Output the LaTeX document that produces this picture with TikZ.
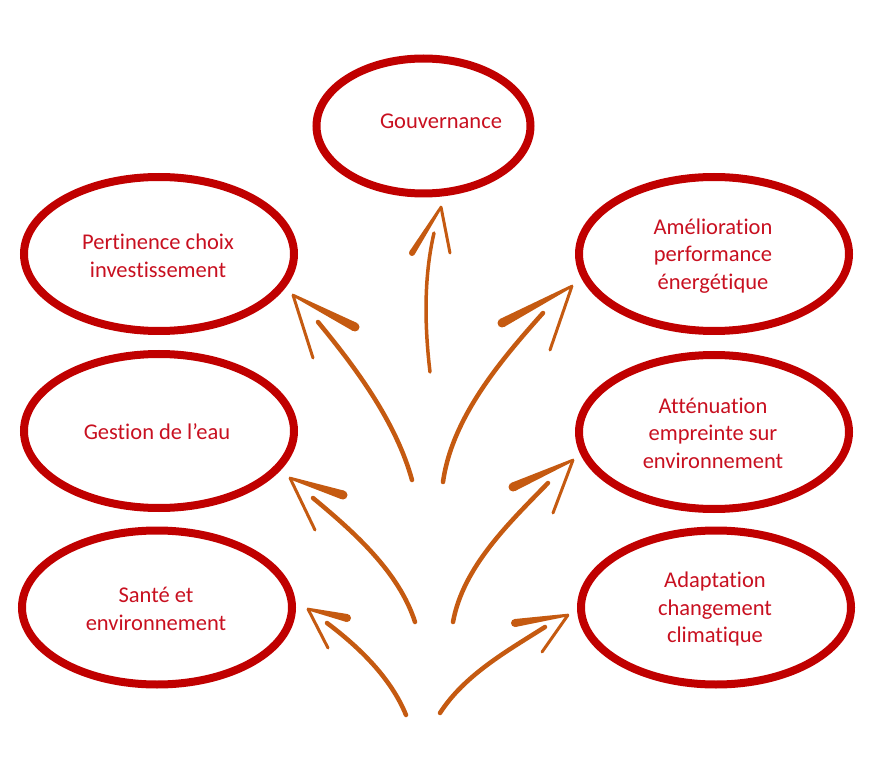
\documentclass[tikz,border=0pt]{standalone}
\usepackage{fontspec}
\setmainfont{Carlito}[Ligatures={NoCommon}]
\usetikzlibrary{calc,shapes.geometric}
\definecolor{bubblered}{RGB}{192,0,0}
\definecolor{textred}{RGB}{200,16,32}
\definecolor{arrowc}{RGB}{197,90,17}
\tikzset{
  bubble/.style={draw=bubblered, line width=8pt, ellipse, inner sep=0pt,
    minimum width=270pt, minimum height=154pt},
  lbl/.style={text=textred, align=center, font=\fontsize{22.5pt}{27.5pt}\selectfont, inner sep=0pt},
  shaft/.style={draw=arrowc, line width=4.5pt, line cap=round},
  thinbarb/.style={draw=arrowc, line width=3pt, line cap=round},
}
% tapered barb: #1 tip, #2 end, #3 half-width at end
\newcommand{\barbfill}[3]{%
  \fill[arrowc] ($(#1)!1.3pt!90:(#2)$) -- ($(#2)!#3!-90:(#1)$) -- ($(#2)!#3!90:(#1)$) -- ($(#1)!1.3pt!-90:(#2)$) -- cycle;
  \fill[arrowc] (#2) circle (#3);}
\begin{document}
\begin{tikzpicture}[x=1pt,y=-1pt]
\useasboundingbox (0,0) rectangle (887,770);
% ellipses
\node[bubble, minimum width=214pt, minimum height=135pt] (gouv) at (423.5,126) {};
\node[bubble] (pert) at (159,254) {};
\node[bubble] (eau) at (159,431) {};
\node[bubble] (sante) at (157,607.5) {};
\node[bubble] (ener) at (714,254) {};
\node[bubble] (envi) at (714,432) {};
\node[bubble] (clim) at (716,607.5) {};
% labels
\node[lbl] (gouvt) at (441,121) {Gouvernance};
\node[lbl] (pertt) at (158,256) {Pertinence choix\\investissement};
\node[lbl] (eaut) at (157,432) {Gestion de l’eau};
\node[lbl] (santet) at (156,609) {Santé et\\environnement};
\node[lbl] (enert) at (713,256) {Amélioration\\performance\\énergétique};
\node[lbl] (envit) at (713,433) {Atténuation\\empreinte sur\\environnement};
\node[lbl] (climt) at (715,609) {Adaptation\\changement\\climatique};
% arrow coordinates
\coordinate (s1) at (430,372); \coordinate (e1) at (434,233);
\coordinate (h1) at (441,207); \coordinate (k1) at (412,253); \coordinate (n1) at (450,253);
\coordinate (s2) at (412,480); \coordinate (e2) at (318,322);
\coordinate (h2) at (293,295); \coordinate (k2) at (355,327); \coordinate (n2) at (313,358);
\coordinate (s3) at (443,482); \coordinate (e3) at (543,313);
\coordinate (h3) at (572,286); \coordinate (k3) at (502,323); \coordinate (n3) at (550,350);
\coordinate (s4) at (415,622); \coordinate (e4) at (313,498);
\coordinate (h4) at (290,478); \coordinate (k4) at (343,495); \coordinate (n4) at (315,530);
\coordinate (s5) at (453,622); \coordinate (e5) at (548,483);
\coordinate (h5) at (573,460); \coordinate (k5) at (513,487); \coordinate (n5) at (553,513);
\coordinate (s6) at (406,715); \coordinate (e6) at (327,623);
\coordinate (h6) at (308,609); \coordinate (k6) at (347,618); \coordinate (n6) at (328,648);
\coordinate (s7) at (440,713); \coordinate (e7) at (545,627);
\coordinate (h7) at (568,615); \coordinate (k7) at (515,623); \coordinate (n7) at (542,652);
% shafts
\draw[shaft, line width=3.5pt] (s1) .. controls (424.6,326) and (423.6,278) .. (e1);
\draw[shaft] (s2) .. controls (396,422) and (356,368) .. (e2);
\draw[shaft] (s3) .. controls (452,418) and (500,361) .. (e3);
\draw[shaft] (s4) .. controls (399,572) and (354,532) .. (e4);
\draw[shaft] (s5) .. controls (463,567) and (509,523) .. (e5);
\draw[shaft] (s6) .. controls (391,678) and (359,647) .. (e6);
\draw[shaft] (s7) .. controls (464.5,675) and (507,651) .. (e7);
% heads
\barbfill{h1}{k1}{3pt}  \draw[thinbarb] (h1) -- (n1);
\barbfill{h2}{k2}{4.5pt} \draw[thinbarb] (h2) -- (n2);
\barbfill{h3}{k3}{4.5pt} \draw[thinbarb] (h3) -- (n3);
\barbfill{h4}{k4}{4.5pt} \draw[thinbarb] (h4) -- (n4);
\barbfill{h5}{k5}{4.5pt} \draw[thinbarb] (h5) -- (n5);
\barbfill{h6}{k6}{4pt} \draw[thinbarb] (h6) -- (n6);
\barbfill{h7}{k7}{4pt} \draw[thinbarb] (h7) -- (n7);
\end{tikzpicture}
\end{document}
